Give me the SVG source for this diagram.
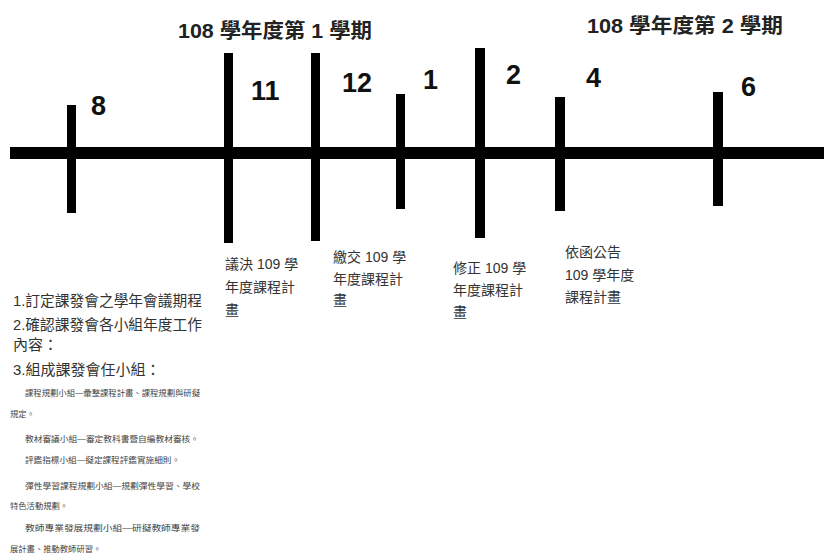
<svg xmlns="http://www.w3.org/2000/svg" width="824" height="553" viewBox="0 0 824 553">
<style>
.tick{fill:#000}
.num{font-family:"Liberation Sans","Noto Sans CJK TC",sans-serif;font-weight:bold;font-size:27px;fill:#111}
.title{font-family:"Liberation Sans","Noto Sans CJK TC",sans-serif;font-weight:bold;font-size:20px;fill:#222}
.ev{font-family:"Liberation Sans","Noto Sans CJK TC",sans-serif;font-size:14px;fill:#333}
.main{font-family:"Liberation Sans","Noto Sans CJK TC",sans-serif;font-size:15px;fill:#333}
.small{font-family:"Liberation Sans","Noto Sans CJK TC",sans-serif;font-size:8.3px;fill:#444}
</style>
<rect width="824" height="553" fill="#fff"/>
<g id="titles">
<text class="title" x="178" y="38" textLength="194" lengthAdjust="spacingAndGlyphs">108 學年度第 1 學期</text>
<text class="title" x="587" y="33" textLength="196" lengthAdjust="spacingAndGlyphs">108 學年度第 2 學期</text>
</g>
<g id="connectors">
<rect id="axis" x="10" y="147" width="814" height="12" class="tick"/>
</g>
<g id="m8"><rect class="tick" x="67" y="105" width="9" height="108"/><text class="num" x="91" y="115">8</text></g>
<g id="m11"><rect class="tick" x="224" y="53" width="9" height="190"/><text class="num" x="251" y="100">11</text></g>
<g id="m12"><rect class="tick" x="311" y="53" width="9" height="188"/><text class="num" x="342" y="92">12</text></g>
<g id="m1"><rect class="tick" x="396" y="94" width="9" height="115"/><text class="num" x="423" y="89">1</text></g>
<g id="m2"><rect class="tick" x="475" y="48" width="10" height="190"/><text class="num" x="506" y="84">2</text></g>
<g id="m4"><rect class="tick" x="555" y="97" width="10" height="114"/><text class="num" x="586" y="87">4</text></g>
<g id="m6"><rect class="tick" x="713" y="92" width="10" height="114"/><text class="num" x="741" y="96">6</text></g>
<g id="ev11">
<text class="ev" x="225" y="269">議決 109 學</text>
<text class="ev" x="225" y="292">年度課程計</text>
<text class="ev" x="225" y="315">畫</text>
</g>
<g id="ev12">
<text class="ev" x="333" y="262">繳交 109 學</text>
<text class="ev" x="333" y="284">年度課程計</text>
<text class="ev" x="333" y="305">畫</text>
</g>
<g id="ev2">
<text class="ev" x="453" y="273">修正 109 學</text>
<text class="ev" x="453" y="295">年度課程計</text>
<text class="ev" x="453" y="317">畫</text>
</g>
<g id="ev4">
<text class="ev" x="565" y="257">依函公告</text>
<text class="ev" x="565" y="280">109 學年度</text>
<text class="ev" x="565" y="302">課程計畫</text>
</g>
<g id="ev8">
<text class="main" x="13" y="306" textLength="189" lengthAdjust="spacingAndGlyphs">1.訂定課發會之學年會議期程</text>
<text class="main" x="13" y="330" textLength="189" lengthAdjust="spacingAndGlyphs">2.確認課發會各小組年度工作</text>
<text class="main" x="13" y="350">內容：</text>
<text class="main" x="13" y="375">3.組成課發會任小組：</text>
<text class="small" x="25" y="396" textLength="175" lengthAdjust="spacingAndGlyphs">課程規劃小組—彙整課程計畫、課程規劃與研擬</text>
<text class="small" x="10" y="417">規定。</text>
<text class="small" x="25" y="442" textLength="174" lengthAdjust="spacingAndGlyphs">教材審議小組—審定教科書暨自編教材審核。</text>
<text class="small" x="25" y="463" textLength="155" lengthAdjust="spacingAndGlyphs">評鑑指標小組—擬定課程評鑑實施細則。</text>
<text class="small" x="25" y="489" textLength="175" lengthAdjust="spacingAndGlyphs">彈性學習課程規劃小組—規劃彈性學習、學校</text>
<text class="small" x="10" y="509">特色活動規劃。</text>
<text class="small" x="25" y="531" textLength="175" lengthAdjust="spacingAndGlyphs">教師專業發展規劃小組—研擬教師專業發</text>
<text class="small" x="10" y="552">展計畫、推動教師研習。</text>
</g>
</svg>
